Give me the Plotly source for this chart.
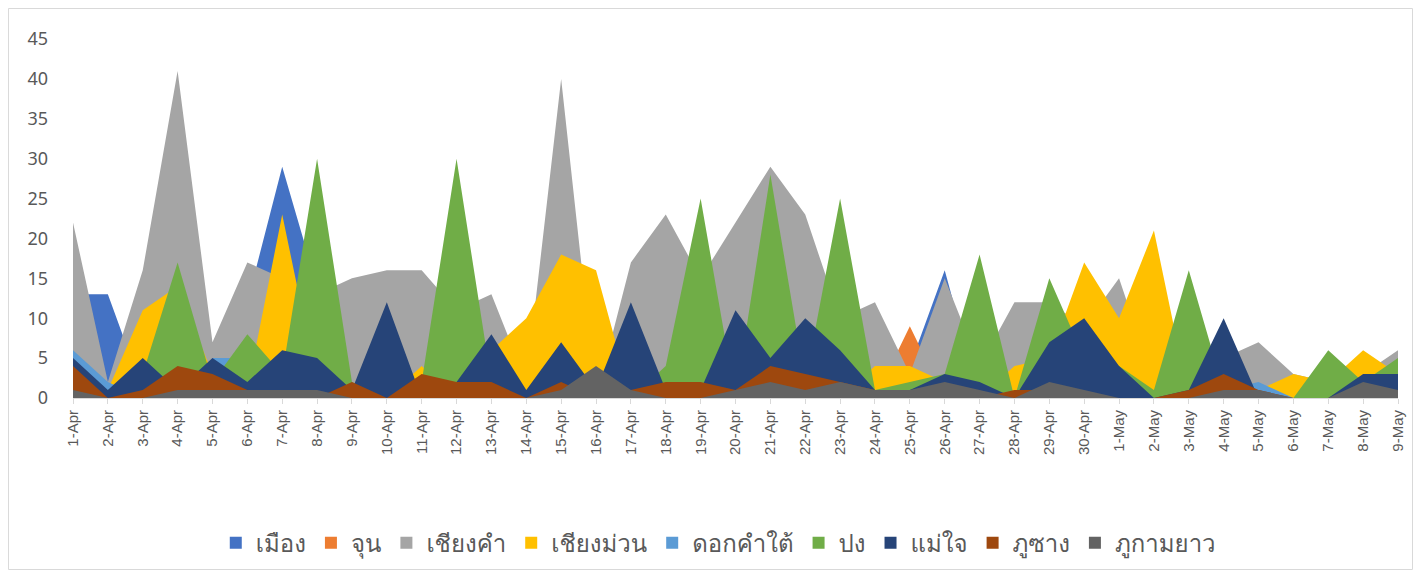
import plotly.graph_objects as go

dates = ["1-Apr","2-Apr","3-Apr","4-Apr","5-Apr","6-Apr","7-Apr","8-Apr","9-Apr","10-Apr",
         "11-Apr","12-Apr","13-Apr","14-Apr","15-Apr","16-Apr","17-Apr","18-Apr","19-Apr","20-Apr",
         "21-Apr","22-Apr","23-Apr","24-Apr","25-Apr","26-Apr","27-Apr","28-Apr","29-Apr","30-Apr",
         "1-May","2-May","3-May","4-May","5-May","6-May","7-May","8-May","9-May"]

mueang      = [13,13,1,2,3,12,29,14,13,3, 2,2,2,1,3,2,2,3,2,3, 3,2,2,1,4,16,0,1,2,3, 2,1,1,2,1,0,0,1,1]
chun        = [0,0,0,0,0,0,0,0,0,0, 0,0,0,0,0,0,0,0,0,0, 0,0,0,0,9,0,0,0,0,0, 0,0,0,0,0,0,0,0,0]
chiangkham  = [22,2,16,41,7,17,15,13,15,16, 16,11,13,2,40,0,17,23,15,22, 29,23,10,12,3,15,4,12,12,9, 15,2,3,5,7,3,2,3,6]
chiangmuan  = [2,1,11,14,3,1,23,2,0,0, 4,0,6,10,18,16,0,0,0,0, 0,0,0,4,4,2,0,4,5,17, 10,21,0,0,1,3,2,6,3]
dokkhamtai  = [6,2,0,0,5,5,2,1,0,0, 0,0,0,0,0,0,0,0,0,0, 0,0,0,0,1,3,1,0,0,0, 0,0,0,1,2,0,0,0,0]
pong        = [0,1,3,17,2,8,3,30,2,0, 2,30,2,0,0,0,0,4,25,0, 28,2,25,1,2,3,18,0,15,5, 4,1,16,1,0,0,6,2,5]
maechai     = [5,1,5,1,5,2,6,5,1,12, 0,2,8,1,7,1,12,1,1,11, 5,10,6,1,1,3,2,0,7,10, 4,0,1,10,0,0,0,3,3]
phusang     = [4,0,1,4,3,1,1,0,2,0, 3,2,2,0,2,0,1,2,2,1, 4,3,2,1,1,0,0,1,1,0, 0,0,1,3,1,0,0,1,0]
phukamyao   = [1,0,0,1,1,1,1,1,0,0, 0,0,0,0,1,4,1,0,0,1, 2,1,2,1,1,2,1,0,2,1, 0,0,0,1,1,0,0,2,1]

names = ["เมือง","จุน","เชียงคำ","เชียงม่วน","ดอกคำใต้","ปง","แม่ใจ","ภูซาง","ภูกามยาว"]
series = [mueang, chun, chiangkham, chiangmuan, dokkhamtai, pong, maechai, phusang, phukamyao]
colors = ["#4472C4","#ED7D31","#A5A5A5","#FFC000","#5B9BD5","#70AD47","#264478","#9E480E","#636363"]

xs = list(range(len(dates)))
fig = go.Figure()
for name, vals, col in zip(names, series, colors):
    fig.add_trace(go.Scatter(x=xs, y=vals, mode="none", fill="tozeroy",
                             fillcolor=col, name=name, showlegend=False,
                             hoverinfo="x+y+name"))
for name, col in zip(names, colors):
    fig.add_trace(go.Scatter(x=[None], y=[None], mode="markers",
                             marker=dict(symbol="square", size=12, color=col),
                             name=name, showlegend=True))

font_family = "Noto Sans, Tahoma, Loma, DejaVu Sans, sans-serif"
fig.update_layout(
    width=1405, height=562,
    margin=dict(l=65, r=15, t=31, b=172, autoexpand=False),
    paper_bgcolor="white", plot_bgcolor="white",
    font=dict(family=font_family, color="#595959"),
    xaxis=dict(range=[0, len(dates) - 1], tickmode="array", tickvals=xs, ticktext=dates,
               tickangle=-90, tickfont=dict(size=15, family="Liberation Sans, Arial, sans-serif",
                                            color="#595959"),
               showgrid=False, zeroline=False, showline=True, linecolor="#D9D9D9",
               ticks="outside", ticklen=5, tickcolor="#D9D9D9", automargin=False),
    yaxis=dict(range=[0, 45], tickmode="array", tickvals=list(range(0, 46, 5)),
               tickfont=dict(size=18, color="#595959"), showgrid=False, zeroline=False,
               showline=False, ticklabelstandoff=24, automargin=False),
    legend=dict(orientation="h", x=0.487, xanchor="center", y=-0.404, yanchor="middle",
                font=dict(size=24, color="#595959"), itemwidth=30, tracegroupgap=0),
    shapes=[dict(type="rect", xref="paper", yref="paper",
                 x0=-0.0487, x1=1.01094, y0=-0.4777, y1=1.08496,
                 line=dict(color="#D9D9D9", width=1), fillcolor="rgba(0,0,0,0)")],
)
fig.write_html("out.html")
